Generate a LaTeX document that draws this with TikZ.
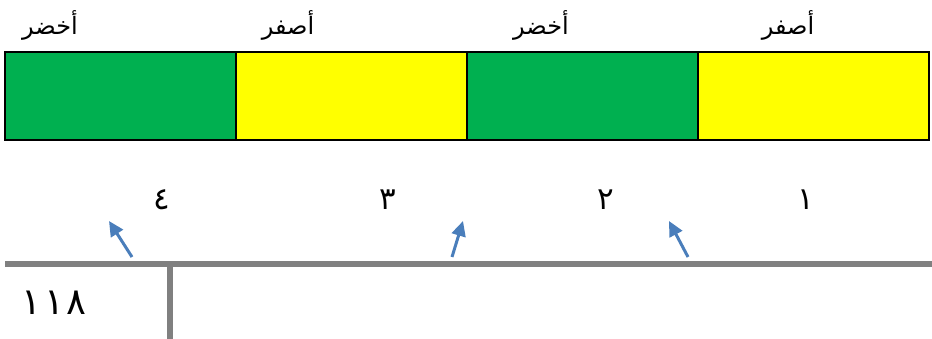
\documentclass[tikz,border=0pt]{standalone}
\usepackage{fontspec}
\TeXXeTstate=1
\newfontfamily\arabicfont[Script=Arabic]{DejaVu Sans}
\usetikzlibrary{arrows.meta}
\definecolor{cgreen}{HTML}{00B050}
\definecolor{cyellow}{HTML}{FFFF00}
\definecolor{cblue}{HTML}{4A7EBB}
\definecolor{cgray}{HTML}{808080}
\tikzset{
  cell/.style={draw=black, line width=2.5pt, minimum width=231pt, minimum height=88pt, inner sep=0pt, outer sep=0pt},
  word/.style={font=\arabicfont\fontsize{24}{28}\selectfont, inner sep=0pt},
  digit/.style={font=\arabicfont\fontsize{31}{34}\selectfont, inner sep=0pt},
  bignum/.style={font=\arabicfont\fontsize{37}{40}\selectfont, inner sep=0pt},
  pointer/.style={draw=cblue, line width=3pt, -{Triangle[length=15pt,width=14pt]}},
  rule/.style={draw=cgray, line width=6pt}
}
\begin{document}
\begin{tikzpicture}[x=1pt,y=-1pt]
\useasboundingbox (0,0) rectangle (932,339);
% cells
\node[cell, fill=cgreen]  (c4) at (120.5,96) {};
\node[cell, fill=cyellow] (c3) at (351.5,96) {};
\node[cell, fill=cgreen]  (c2) at (582.5,96) {};
\node[cell, fill=cyellow] (c1) at (813.5,96) {};
% colour words
\node[word] (w4) at (50,25)  {\beginR أخضر\endR};
\node[word] (w3) at (288,25) {\beginR أصفر\endR};
\node[word] (w2) at (541,25) {\beginR أخضر\endR};
\node[word] (w1) at (788,25) {\beginR أصفر\endR};
% digits
\node[digit] (d4) at (162,200) {٤};
\node[digit] (d3) at (388,200) {٣};
\node[digit] (d2) at (606,200) {٢};
\node[digit] (d1) at (806,200) {١};
% rule lines
\coordinate (hl) at (5,264);
\coordinate (hr) at (932,264);
\coordinate (vt) at (170,264);
\coordinate (vb) at (170,339);
\draw[rule] (hl) -- (hr);
\draw[rule] (vt) -- (vb);
\node[bignum] (n) at (54,303) {١\kern3pt١\kern3pt٨};
% arrows
\coordinate (a1s) at (132,257); \coordinate (a1e) at (109,221);
\coordinate (a2s) at (452,257); \coordinate (a2e) at (463,221);
\coordinate (a3s) at (688,257); \coordinate (a3e) at (669,221);
\draw[pointer] (a1s) -- (a1e);
\draw[pointer] (a2s) -- (a2e);
\draw[pointer] (a3s) -- (a3e);
\end{tikzpicture}
\end{document}
